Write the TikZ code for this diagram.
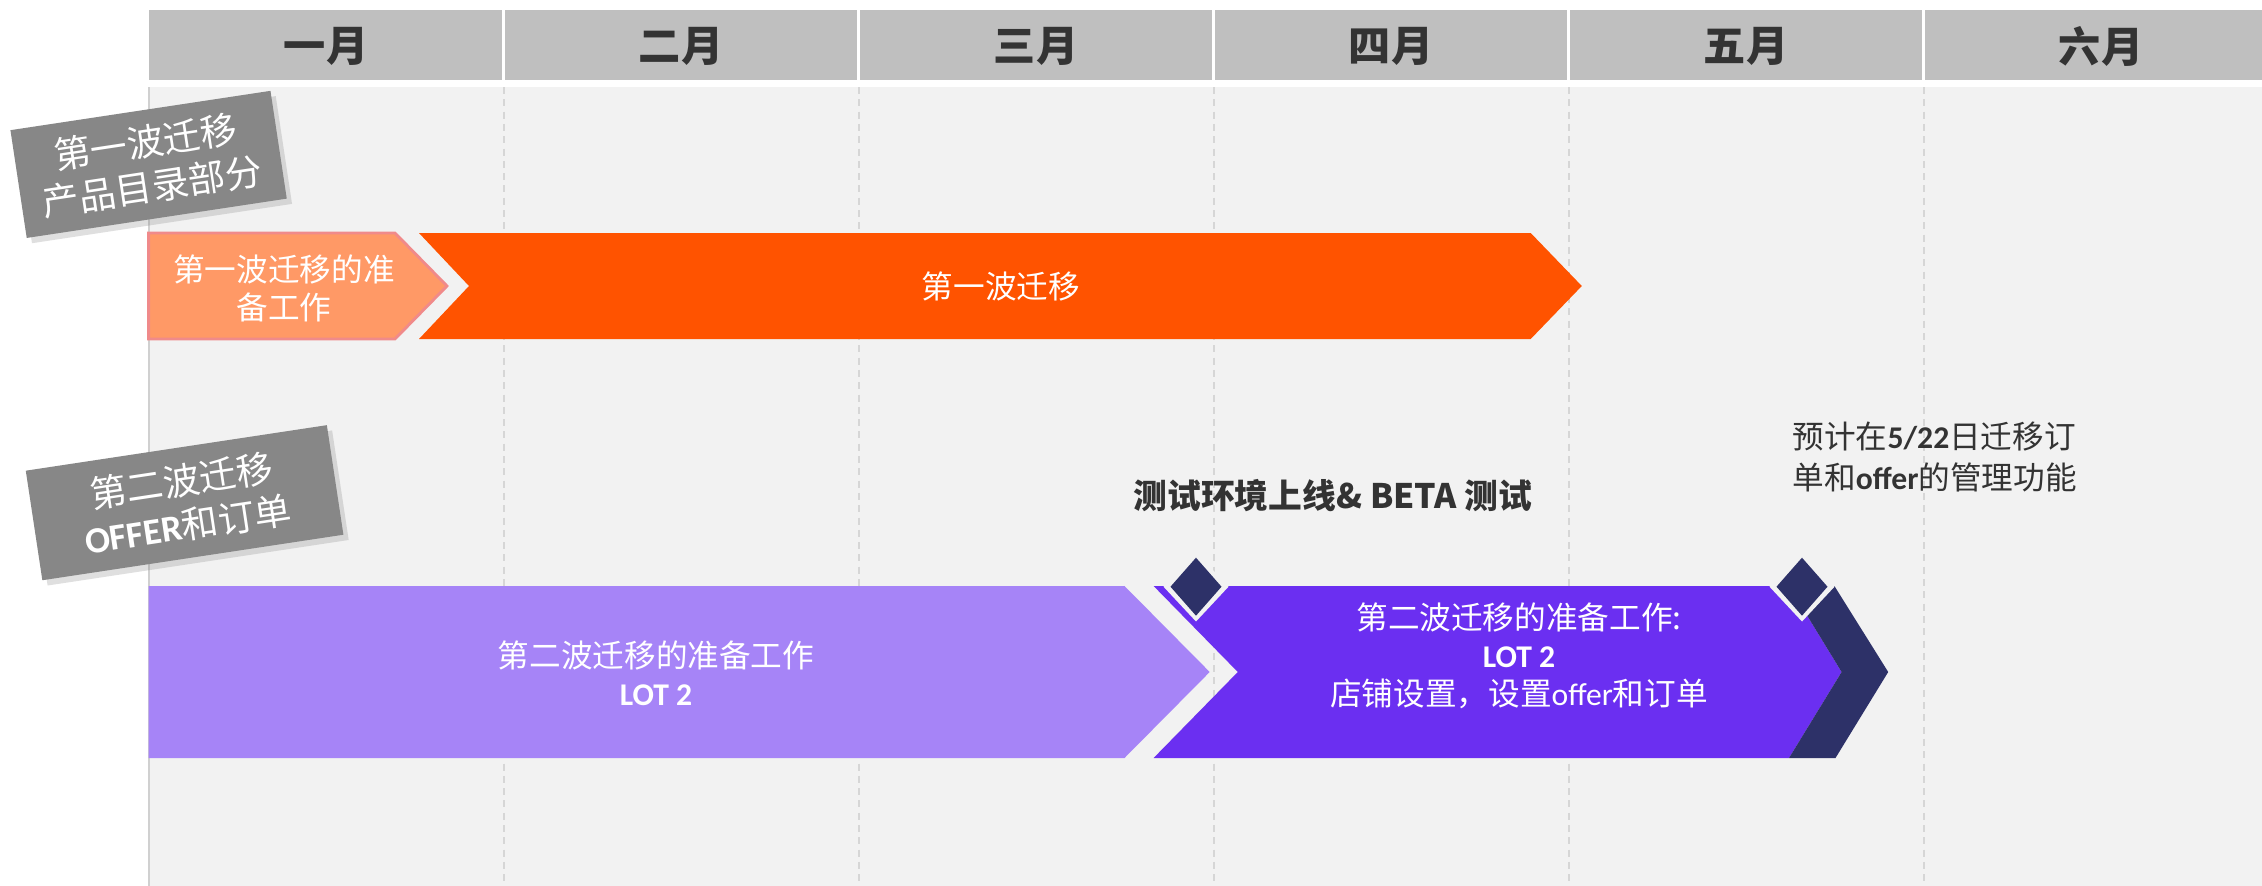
\documentclass[tikz,border=0pt]{standalone}
\usepackage{fontspec}
\setmainfont{Noto Sans CJK SC}
\newfontfamily\latinfont{Carlito}
\usetikzlibrary{shadows}

\definecolor{headgray}{HTML}{BFBFBF}
\definecolor{backgray}{HTML}{F2F2F2}
\definecolor{gridgray}{HTML}{D6D6D6}
\definecolor{edgegray}{HTML}{D0D0D0}
\definecolor{taggray}{HTML}{878787}
\definecolor{darktext}{HTML}{333333}
\definecolor{lightorange}{HTML}{FF9966}
\definecolor{pinkedge}{HTML}{F08A8A}
\definecolor{deeporange}{HTML}{FF5300}
\definecolor{lightpurple}{HTML}{A684F7}
\definecolor{deeppurple}{HTML}{6B2FF1}
\definecolor{navy}{HTML}{2D3168}

\begin{document}
\begin{tikzpicture}[
  x=1cm, y=-1cm,
  month/.style={font=\fontsize{12}{14}\selectfont\bfseries, text=darktext},
  tag/.style={fill=taggray, text=white, rotate=8.6, inner sep=0pt, align=center,
    font=\fontsize{10.5}{12.7}\selectfont,
    drop shadow={shadow xshift=1.5pt, shadow yshift=-1.5pt, opacity=0.25}},
  bartext/.style={text=white, align=center, font=\fontsize{9}{10.8}\selectfont},
  gridline/.style={gridgray, dash pattern=on 2pt off 1.5pt, line width=0.6pt}
]
  \useasboundingbox (0,0) rectangle (22.62,8.86);
  \fill[white] (0,0) rectangle (22.62,8.86);

  % header
  \fill[headgray] (1.486,0.10) rectangle (22.62,0.80);
  \draw[white, line width=1pt] (5.036,0.10) -- (5.036,0.80);
  \draw[white, line width=1pt] (8.586,0.10) -- (8.586,0.80);
  \draw[white, line width=1pt] (12.136,0.10) -- (12.136,0.80);
  \draw[white, line width=1pt] (15.686,0.10) -- (15.686,0.80);
  \draw[white, line width=1pt] (19.236,0.10) -- (19.236,0.80);
  \node[month] (m1) at (3.261,0.46) {一月};
  \node[month] (m2) at (6.811,0.46) {二月};
  \node[month] (m3) at (10.361,0.46) {三月};
  \node[month] (m4) at (13.911,0.46) {四月};
  \node[month] (m5) at (17.461,0.46) {五月};
  \node[month] (m6) at (21.011,0.46) {六月};

  % grid
  \fill[backgray] (1.486,0.87) rectangle (22.62,8.86);
  \draw[edgegray, line width=0.6pt] (1.486,0.87) -- (1.486,8.86);
  \draw[gridline] (5.036,0.87) -- (5.036,8.86);
  \draw[gridline] (8.586,0.87) -- (8.586,8.86);
  \draw[gridline] (12.136,0.87) -- (12.136,8.86);
  \draw[gridline] (15.686,0.87) -- (15.686,8.86);
  \draw[gridline] (19.236,0.87) -- (19.236,8.86);

  % wave one
  \filldraw[fill=lightorange, draw=pinkedge, line width=0.8pt]
    (1.486,2.33) -- (3.95,2.33) -- (4.47,2.86) -- (3.95,3.39) -- (1.486,3.39) -- cycle;
  \fill[deeporange] (4.19,2.33) -- (15.307,2.33) -- (15.818,2.86) -- (15.307,3.39)
    -- (4.19,3.39) -- (4.69,2.86) -- cycle;
  \node[bartext] (prep1) at (2.84,2.88) {第一波迁移的准\\备工作};
  \node[bartext] (wave1) at (10.01,2.86) {第一波迁移};

  % wave two
  \fill[lightpurple] (1.486,5.86) -- (11.245,5.86) -- (12.097,6.72) -- (11.245,7.58)
    -- (1.486,7.58) -- cycle;
  \fill[deeppurple] (11.536,5.86) -- (17.89,5.86) -- (18.416,6.72) -- (17.89,7.58)
    -- (11.536,7.58) -- (12.378,6.72) -- cycle;
  \fill[navy] (17.89,5.86) -- (18.344,5.86) -- (18.882,6.72) -- (18.355,7.58)
    -- (17.89,7.58) -- (18.416,6.72) -- cycle;
  \fill[backgray] (11.96,5.52) -- (12.285,5.867) -- (11.96,6.215) -- (11.635,5.867) -- cycle;
  \fill[navy] (11.96,5.577) -- (12.215,5.867) -- (11.96,6.157) -- (11.705,5.867) -- cycle;
  \fill[backgray] (18.02,5.52) -- (18.345,5.867) -- (18.02,6.215) -- (17.695,5.867) -- cycle;
  \fill[navy] (18.02,5.577) -- (18.275,5.867) -- (18.02,6.157) -- (17.765,5.867) -- cycle;
  \node[bartext] (prep2) at (6.56,6.73) {第二波迁移的准备工作\\{\latinfont\bfseries LOT 2}};
  \node[bartext] (wave2) at (15.19,6.56)
    {第二波迁移的准备工作:\\{\latinfont\bfseries LOT 2}\\店铺设置，设置{\latinfont offer}和订单};

  % milestones
  \node[text=darktext, font=\fontsize{9.6}{12}\selectfont\bfseries] (beta) at (13.33,4.96)
    {测试环境上线\& BETA 测试};
  \node[text=darktext, anchor=west, align=left, inner sep=0pt,
    font=\fontsize{9}{11.4}\selectfont] (note) at (17.92,4.57)
    {预计在{\latinfont\bfseries 5/22}日迁移订\\单和{\latinfont\bfseries offer}的管理功能};

  % tags
  \node[tag, minimum width=2.63cm, minimum height=1.09cm] (tag1) at (1.486,1.644)
    {第一波迁移\\产品目录部分};
  \node[tag, minimum width=3.045cm, minimum height=1.108cm] (tag2) at (1.846,5.027)
    {第二波迁移\\{\latinfont\bfseries OFFER}和订单};

\end{tikzpicture}
\end{document}
